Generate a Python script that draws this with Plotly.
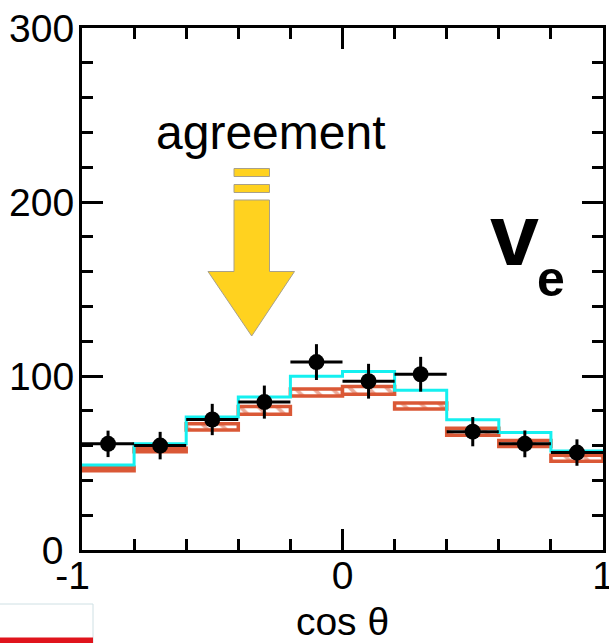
import plotly.graph_objects as go

# --- data ---
bin_centers = [-0.9, -0.7, -0.5, -0.3, -0.1, 0.1, 0.3, 0.5, 0.7, 0.9]
bin_edges = [-1, -0.8, -0.6, -0.4, -0.2, 0, 0.2, 0.4, 0.6, 0.8, 1]
data_values = [61, 60, 75, 85, 108, 97, 101, 68, 61, 56]
data_errors = [7.6, 7.9, 9, 9.5, 10.3, 10, 10, 8.4, 7.7, 7.6]
band_low = [45.5, 56.5, 69, 78, 88.5, 89.5, 81, 66, 59.5, 51]
band_high = [47.5, 58.5, 72.5, 82.5, 92.5, 94, 84.5, 70, 63, 54.5]
cyan_values = [48.8, 61, 76.5, 88, 99.8, 102.6, 91.8, 74.8, 67.5, 56.9, 56.9]
x_tick_vals = [-1, 0, 1]
x_tick_text = ["-1\u00a0\u2009", "0", "1"]
y_tick_vals = [0, 100, 200, 300]
y_tick_text = ["0\u00a0", "100", "200", "300"]

FONT = "Liberation Sans, Arial, sans-serif"
L, R, T, B = 82, 603, 28, 550
W, H = 609, 643


def px(x):
    return (x - L) / (R - L)


def py(y):
    return (B - y) / (B - T)


def rect(x0, y0, x1, y1, **kw):
    return dict(type="rect", xref="paper", yref="paper", x0=px(x0), x1=px(x1), y0=py(y1), y1=py(y0), **kw)


fig = go.Figure()
fig.add_trace(go.Bar(
    x=bin_centers,
    y=[h - l for h, l in zip(band_high, band_low)],
    base=band_low,
    width=0.2,
    marker=dict(
        color="white",
        line=dict(color="#DA5836", width=3.5),
        pattern=dict(shape="\\", fgcolor="#DA5836", bgcolor="white", size=13, solidity=0.3),
    ),
    showlegend=False,
))
fig.add_trace(go.Scatter(
    x=bin_edges, y=cyan_values, mode="lines",
    line=dict(color="#14F0F0", width=3, shape="hv"),
    showlegend=False,
))
fig.add_trace(go.Scatter(
    x=bin_centers, y=data_values, mode="markers",
    marker=dict(color="black", size=16),
    error_y=dict(type="data", array=data_errors, color="black", thickness=3, width=0),
    error_x=dict(type="data", array=[0.1] * 10, color="black", thickness=3, width=0),
    showlegend=False,
))

arrow_color = "#FFD21F"
arrow_line = dict(color="#A8A08A", width=1)
arrow_pts = [(234, 200), (269.5, 200), (269.5, 271.5), (294.5, 271.5), (251.7, 336),
             (208, 271.5), (234, 271.5)]
arrow_path = "M " + " L ".join(f"{px(x):.5f},{py(y):.5f}" for x, y in arrow_pts) + " Z"
shapes = [
    dict(type="path", xref="paper", yref="paper", path=arrow_path, fillcolor=arrow_color, line=arrow_line),
    rect(234, 168.5, 269.5, 176.5, fillcolor=arrow_color, line=arrow_line),
    rect(234, 184.5, 269.5, 192.5, fillcolor=arrow_color, line=arrow_line),
    rect(-2, 604, 93, 645, fillcolor="white", line=dict(color="#CFE0E4", width=1)),
    rect(-2, 637.5, 93, 645, fillcolor="#E0141C", line=dict(width=0)),
]


def label(text, x, y, size, bold=False):
    return dict(
        text=f"<b>{text}</b>" if bold else text,
        xref="paper", yref="paper", x=px(x), y=py(y),
        xanchor="center", yanchor="middle", showarrow=False,
        font=dict(family=FONT, size=size, color="black"),
    )


annotations = [
    label("agreement", 270.5, 132, 48),
    label("v", 514, 234, 88, bold=True),
    label("e", 551, 279, 50, bold=True),
]

axis_common = dict(
    showline=True, linecolor="black", linewidth=3, mirror="allticks",
    ticks="inside", ticklen=21, tickwidth=3, tickcolor="black",
    showgrid=False, zeroline=False,
    ticklabeloverflow="allow",
    tickfont=dict(family=FONT, size=39, color="black"),
)
fig.update_layout(
    width=W, height=H,
    margin=dict(l=L, r=W - R, t=T, b=H - B, pad=0, autoexpand=False),
    paper_bgcolor="white", plot_bgcolor="white",
    showlegend=False,
    shapes=shapes,
    annotations=annotations,
    xaxis=dict(
        range=[-1, 1], tickmode="array", tickvals=x_tick_vals, ticktext=x_tick_text,
        minor=dict(ticks="inside", ticklen=11, tickwidth=3, tickcolor="black", dtick=0.2, tick0=-1, showgrid=False),
        title=dict(text="cos θ", font=dict(family=FONT, size=39, color="black"), standoff=16),
        tickangle=0,
        ticklabelstandoff=-11,
        **axis_common,
    ),
    yaxis=dict(
        range=[0, 300], tickmode="array", tickvals=y_tick_vals, ticktext=y_tick_text,
        minor=dict(ticks="inside", ticklen=11, tickwidth=3, tickcolor="black", dtick=20, tick0=0, showgrid=False),
        ticklabelstandoff=-3,
        **axis_common,
    ),
)
fig.write_html(
    "out.html",
    config=dict(displayModeBar=False),
    post_script="document.body.style.margin='0';document.documentElement.style.overflow='hidden';",
)
